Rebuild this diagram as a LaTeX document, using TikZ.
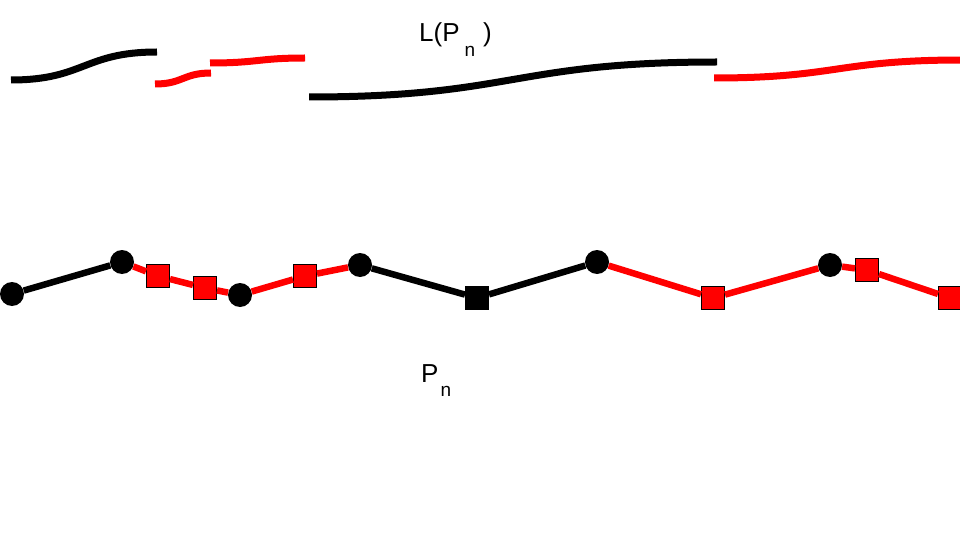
\documentclass[tikz,border=0pt]{standalone}
\usepackage{fontspec}
\setmainfont{Liberation Sans}
\begin{document}
\begin{tikzpicture}[x=1pt,y=-1pt,
  edgeblack/.style={draw=black,line width=6.5pt},
  edgered/.style={draw=red,line width=6.5pt},
  curveblack/.style={draw=black,line width=7pt},
  curvered/.style={draw=red,line width=7pt},
  vdot/.style={circle,fill=black,inner sep=0pt,minimum size=24pt},
  rsq/.style={rectangle,fill=red,draw=black,line width=1pt,inner sep=0pt,minimum size=23pt},
  bsq/.style={rectangle,fill=black,draw=black,line width=1pt,inner sep=0pt,minimum size=23pt},
  lbl/.style={anchor=base west,inner sep=0pt,font=\fontsize{26}{30}\selectfont}
]
\useasboundingbox (0,0) rectangle (960,540);

% line graph L(P_n): curve pieces
\draw[curveblack] (11,80) .. controls (84,80) and (84,52) .. (157,52);
\draw[curvered] (155,84) .. controls (183,84) and (183,73) .. (211,73);
\draw[curvered] (210,63) .. controls (258,63) and (258,58) .. (305,58);
\draw[curveblack] (309,97) .. controls (513,97) and (513,62) .. (717,62);
\draw[curvered] (714,78) .. controls (837,78) and (837,60) .. (962,60);

% labels
\node[lbl] (lpn) at (419,42) {L(P\hspace{5pt}\raisebox{-15pt}{\fontsize{19}{22}\selectfont n}\hspace{8pt})};
\node[lbl] (pn) at (421,382) {P\hspace{2pt}\raisebox{-14pt}{\fontsize{19}{22}\selectfont n}};

% path P_n: vertices
\node[vdot] (c1) at (12,294) {};
\node[vdot] (c2) at (122,262) {};
\node[rsq]  (s1) at (158,276) {};
\node[rsq]  (s2) at (205,288) {};
\node[vdot] (c3) at (240,295) {};
\node[rsq]  (s3) at (305,276) {};
\node[vdot] (c4) at (360,265) {};
\node[bsq]  (s4) at (477,298) {};
\node[vdot] (c5) at (597,262) {};
\node[rsq]  (s5) at (713,298) {};
\node[vdot] (c6) at (830,265) {};
\node[rsq]  (s6) at (867,270) {};
\node[rsq]  (s7) at (950,298) {};

% path P_n: edges
\draw[edgeblack] (c1) -- (c2);
\draw[edgered] (c2) -- (s1);
\draw[edgered] (s1) -- (s2);
\draw[edgered] (s2) -- (c3);
\draw[edgered] (c3) -- (s3);
\draw[edgered] (s3) -- (c4);
\draw[edgeblack] (c4) -- (s4);
\draw[edgeblack] (s4) -- (c5);
\draw[edgered] (c5) -- (s5);
\draw[edgered] (s5) -- (c6);
\draw[edgered] (c6) -- (s6);
\draw[edgered] (s6) -- (s7);
\end{tikzpicture}
\end{document}
